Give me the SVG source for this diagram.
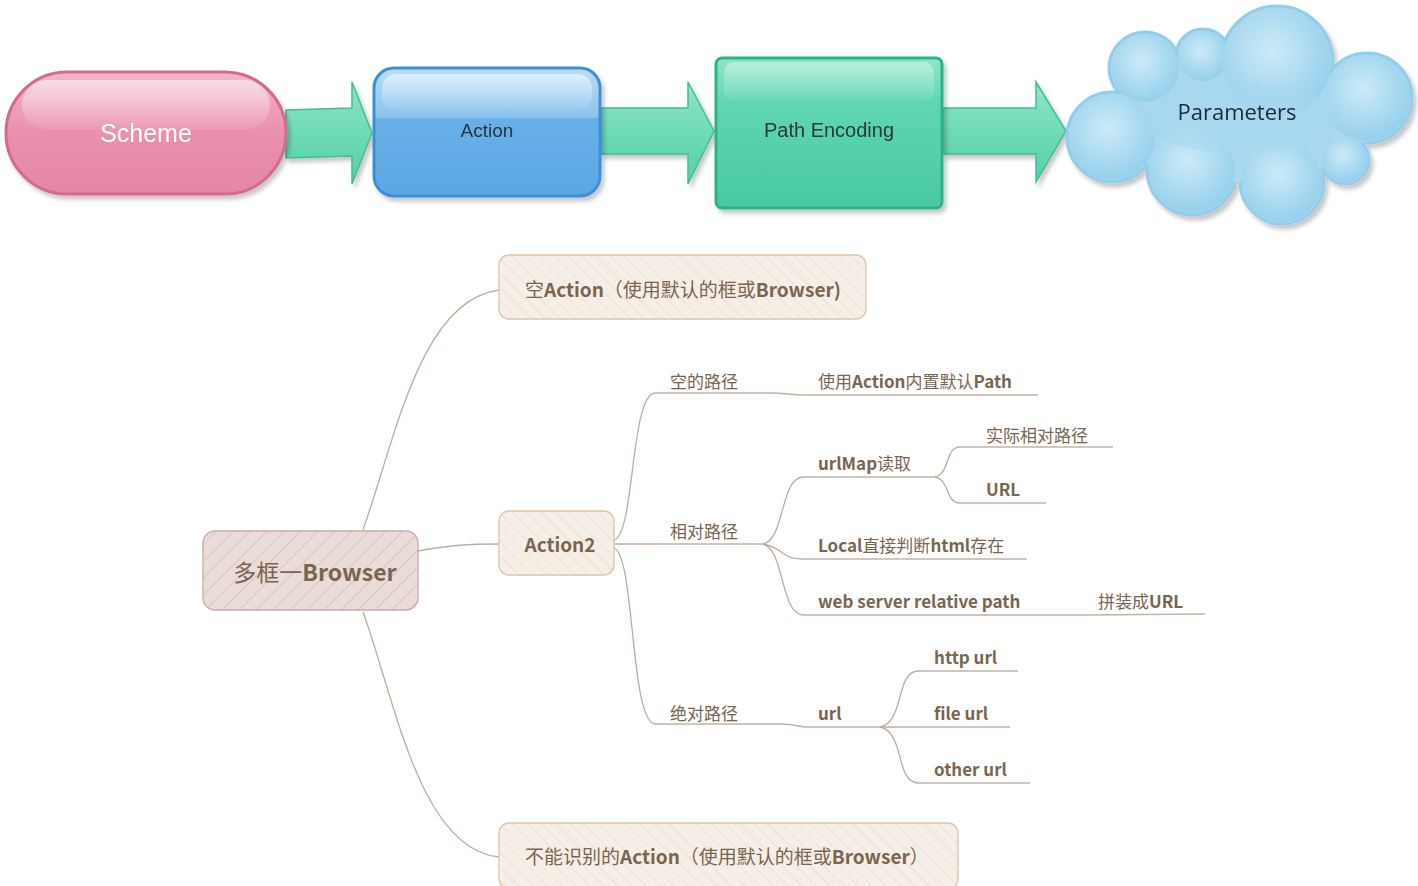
<svg xmlns="http://www.w3.org/2000/svg" width="1418" height="886" viewBox="0 0 1418 886">
<defs>
<linearGradient id="gPink" x1="0" y1="0" x2="0" y2="1"><stop offset="0" stop-color="#f3b6c9"/><stop offset="0.5" stop-color="#e990ac"/><stop offset="1" stop-color="#e487a5"/></linearGradient>
<linearGradient id="gBlue" x1="0" y1="0" x2="0" y2="1"><stop offset="0" stop-color="#b9dcf5"/><stop offset="0.38" stop-color="#8cc4ee"/><stop offset="0.4" stop-color="#69b0e8"/><stop offset="1" stop-color="#5aa6e4"/></linearGradient>
<linearGradient id="gGreen" x1="0" y1="0" x2="0" y2="1"><stop offset="0" stop-color="#8ee6c9"/><stop offset="0.3" stop-color="#5fd6b2"/><stop offset="1" stop-color="#48c9a2"/></linearGradient>
<linearGradient id="gArrow" x1="0" y1="0" x2="0" y2="1"><stop offset="0" stop-color="#8ee5c8"/><stop offset="1" stop-color="#52cfa8"/></linearGradient>
<radialGradient id="gBub" cx="0.45" cy="0.4" r="0.6"><stop offset="0" stop-color="#cdeaf8"/><stop offset="1" stop-color="#95d0ec"/></radialGradient>
<linearGradient id="gShine" x1="0" y1="0" x2="0" y2="1"><stop offset="0" stop-color="#fff" stop-opacity="0.55"/><stop offset="1" stop-color="#fff" stop-opacity="0.05"/></linearGradient>
<filter id="sh" x="-10%" y="-10%" width="130%" height="130%"><feDropShadow dx="3" dy="4" stdDeviation="2" flood-color="#000" flood-opacity="0.22"/></filter>
<pattern id="hatchRoot" width="12" height="12" patternUnits="userSpaceOnUse" patternTransform="rotate(45)"><rect width="12" height="12" fill="#eadcd9"/><line x1="0" y1="0" x2="0" y2="12" stroke="#c8aca8" stroke-width="1"/></pattern>
<pattern id="hatchBox" width="10" height="10" patternUnits="userSpaceOnUse" patternTransform="rotate(-45)"><rect width="10" height="10" fill="#f6efe8"/><line x1="0" y1="0" x2="0" y2="10" stroke="#e3d3c4" stroke-width="1"/></pattern>
</defs>
<style>
.arrow{fill:url(#gArrow);stroke:#3fbf96;stroke-width:1.5}
.top{font-family:"Liberation Sans",Arial,sans-serif;text-anchor:middle}
.mm{font-family:"Noto Sans CJK SC","Noto Sans",sans-serif;fill:#7a6550}
.b{font-weight:700}
.lbl{font-size:17px}
.conn{fill:none;stroke:#bfae9d;stroke-width:1.3}
.ul{fill:none;stroke:#c4b4a4;stroke-width:1.5}
.cloudO{fill:#a9d8f0;stroke:#95cde8;stroke-width:3}
.cloudI{fill:url(#gBub)}
</style>

<g id="connectors">
<path class="arrow" d="M286,110 L352,108 L352,82 L372,133 L352,184 L352,156 L286,158 Z" filter="url(#sh)"/>
<path class="arrow" d="M601,108 L688,108 L688,82 L714,131 L688,184 L688,154 L601,154 Z" filter="url(#sh)"/>
<path class="arrow" d="M943,108 L1036,108 L1036,82 L1066,131 L1036,182 L1036,154 L943,154 Z" filter="url(#sh)"/>
<path class="conn" d="M363,530 C395,440 420,300 499,290"/>
<path class="conn" d="M418,551 C450,545 470,544 499,544"/>
<path class="conn" d="M363,612 C395,700 420,850 499,857"/>
<path class="conn" d="M614,540 C635,535 630,395 655,393"/>
<path class="conn" d="M614,544 L655,544"/>
<path class="conn" d="M614,548 C635,555 630,722 655,724"/>
<path class="ul" d="M655,393 L770,393 C785,393 790,395 805,395 L1038,395"/>
<path class="ul" d="M655,544 L763,544"/>
<path class="ul" d="M655,724 L780,724 C795,724 800,727 805,727 L880,727"/>
<path class="conn" d="M763,544 C785,540 780,478 803,477"/>
<path class="conn" d="M763,544 C785,548 780,559 803,559"/>
<path class="conn" d="M763,544 C785,550 780,614 803,615"/>
<path class="ul" d="M803,477 L935,477"/>
<path class="ul" d="M803,559 L1027,559"/>
<path class="ul" d="M803,615 L1085,615 L1205,614"/>
<path class="conn" d="M935,477 C950,474 945,447 960,447"/>
<path class="conn" d="M935,477 C950,480 945,503 960,503"/>
<path class="ul" d="M960,447 L1113,447"/>
<path class="ul" d="M960,503 L1046,503"/>
<path class="conn" d="M880,727 C905,722 895,672 918,671"/>
<path class="conn" d="M880,727 L918,727"/>
<path class="conn" d="M880,727 C905,732 895,782 918,783"/>
<path class="ul" d="M918,671 L1018,671"/>
<path class="ul" d="M918,727 L1010,727"/>
<path class="ul" d="M918,783 L1030,783"/>
</g>

<g id="scheme" filter="url(#sh)">
<rect x="6" y="72" width="280" height="122" rx="61" fill="url(#gPink)" stroke="#d56b8c" stroke-width="3"/>
<rect x="22" y="80" width="248" height="50" rx="25" fill="url(#gShine)"/>
<text class="top" x="146" y="142" fill="#ffffff" style="font-size:25px">Scheme</text>
</g>

<g id="action" filter="url(#sh)">
<rect x="374" y="68" width="226" height="128" rx="20" fill="url(#gBlue)" stroke="#3d8fd8" stroke-width="3"/>
<rect x="382" y="74" width="210" height="36" rx="14" fill="url(#gShine)"/>
<text class="top" x="487" y="137" fill="#2b3440" style="font-size:19px">Action</text>
</g>

<g id="path-encoding" filter="url(#sh)">
<rect x="716" y="58" width="226" height="150" rx="6" fill="url(#gGreen)" stroke="#2cb389" stroke-width="3"/>
<rect x="724" y="62" width="210" height="40" rx="10" fill="url(#gShine)" opacity="0.7"/>
<text class="top" x="829" y="137" fill="#2b3a36" style="font-size:20px">Path Encoding</text>
</g>

<g id="parameters" filter="url(#sh)">
<circle class="cloudO" cx="1145" cy="68" r="36"/>
<circle class="cloudO" cx="1203" cy="56" r="27"/>
<circle class="cloudO" cx="1277" cy="62" r="56"/>
<circle class="cloudO" cx="1367" cy="98" r="45"/>
<circle class="cloudO" cx="1112" cy="137" r="45"/>
<circle class="cloudO" cx="1192" cy="170" r="45"/>
<circle class="cloudO" cx="1282" cy="182" r="42"/>
<circle class="cloudO" cx="1345" cy="160" r="24"/>
<ellipse cx="1240" cy="120" rx="130" ry="62" fill="#a9d8f0"/>
<circle class="cloudI" cx="1145" cy="68" r="34"/>
<circle class="cloudI" cx="1203" cy="56" r="25"/>
<circle class="cloudI" cx="1277" cy="62" r="54"/>
<circle class="cloudI" cx="1367" cy="98" r="43"/>
<circle class="cloudI" cx="1112" cy="137" r="43"/>
<circle class="cloudI" cx="1192" cy="170" r="43"/>
<circle class="cloudI" cx="1282" cy="182" r="40"/>
<circle class="cloudI" cx="1345" cy="160" r="22"/>
<ellipse cx="1240" cy="118" rx="100" ry="35" fill="#a9d8f0" opacity="0.6"/>
<text x="1237" y="120" font-family="'Open Sans','Liberation Sans',sans-serif" font-size="22" text-anchor="middle" fill="#1f2a36">Parameters</text>
</g>

<g id="root">
<rect x="203" y="531" width="215" height="79" rx="12" fill="url(#hatchRoot)" stroke="#c9aaa5" stroke-width="1.3"/>
<text class="mm" x="315" y="581" font-size="23" text-anchor="middle">多框一<tspan class="b">Browser</tspan></text>
</g>

<g id="empty-action">
<rect x="499" y="255" width="367" height="64" rx="10" fill="url(#hatchBox)" stroke="#dcc4ab" stroke-width="1.3"/>
<text class="mm" x="525" y="297" font-size="19">空<tspan class="b">Action</tspan>（使用默认的框或<tspan class="b">Browser)</tspan></text>
</g>

<g id="action2">
<rect x="499" y="511" width="115" height="64" rx="10" fill="url(#hatchBox)" stroke="#dcc4ab" stroke-width="1.3"/>
<text class="mm b" x="560" y="552" font-size="19" text-anchor="middle">Action2</text>
</g>

<g id="unknown-action">
<rect x="499" y="823" width="459" height="66" rx="10" fill="url(#hatchBox)" stroke="#dcc4ab" stroke-width="1.3"/>
<text class="mm" x="525" y="864" font-size="19">不能识别的<tspan class="b">Action</tspan>（使用默认的框或<tspan class="b">Browser</tspan>）</text>
</g>

<g id="labels">
<text id="empty-path" class="mm lbl" x="670" y="388">空的路径</text>
<text id="builtin-path" class="mm lbl" x="818" y="388">使用<tspan class="b">Action</tspan>内置默认<tspan class="b">Path</tspan></text>
<text id="relative-path" class="mm lbl" x="670" y="538">相对路径</text>
<text id="urlmap" class="mm lbl" x="818" y="470"><tspan class="b">urlMap</tspan>读取</text>
<text id="actual-rel" class="mm lbl" x="986" y="442">实际相对路径</text>
<text id="url-cap" class="mm lbl b" x="986" y="496">URL</text>
<text id="local" class="mm lbl" x="818" y="552"><tspan class="b">Local</tspan>直接判断<tspan class="b">html</tspan>存在</text>
<text id="webserver" class="mm lbl b" x="818" y="608">web server relative path</text>
<text id="assemble" class="mm lbl" x="1098" y="608">拼装成<tspan class="b">URL</tspan></text>
<text id="absolute-path" class="mm lbl" x="670" y="720">绝对路径</text>
<text id="url" class="mm lbl b" x="818" y="720">url</text>
<text id="http-url" class="mm lbl b" x="934" y="664">http url</text>
<text id="file-url" class="mm lbl b" x="934" y="720">file url</text>
<text id="other-url" class="mm lbl b" x="934" y="776">other url</text>
</g>
</svg>
